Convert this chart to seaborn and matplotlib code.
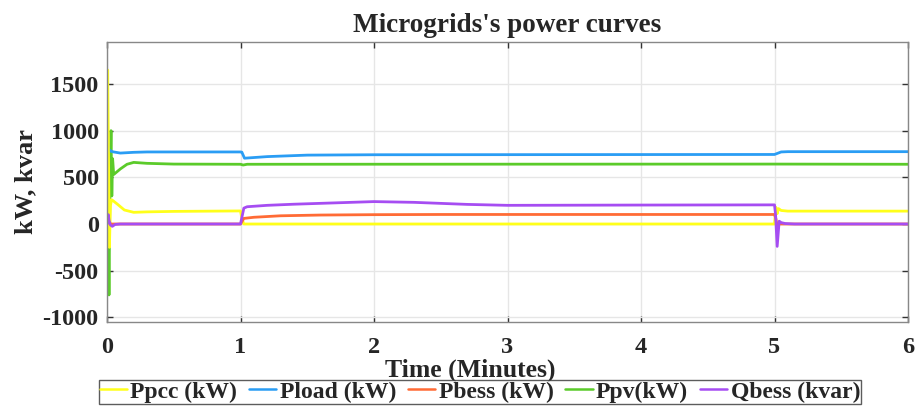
import numpy as np
import pandas as pd
import matplotlib
matplotlib.use("Agg")
import matplotlib.pyplot as plt
import seaborn as sns
from matplotlib.lines import Line2D

# ---- data (breakpoints) ----
ppcc_t = [0, 0.005, 0.01, 0.018, 0.026, 0.034, 0.045, 0.08, 0.13, 0.2, 0.3, 0.5, 1.0, 1.01, 1.025, 5.0, 5.01, 5.02, 5.03, 5.05, 5.1, 6.0]
ppcc_v = [0, 1650, 900, -250, 200, 260, 250, 210, 150, 125, 130, 135, 140, 60, 0, 0, 180, 110, 165, 145, 138, 138]

pload_t = [0, 0.006, 0.012, 0.03, 0.05, 0.1, 0.2, 0.3, 1.0, 1.01, 1.03, 1.2, 1.5, 2.0, 5.0, 5.05, 5.1, 6.0]
pload_v = [0, 860, 800, 780, 772, 760, 768, 772, 772, 770, 705, 722, 738, 742, 745, 772, 775, 775]

pbess_t = [0, 0.012, 0.02, 0.03, 1.0, 1.025, 1.1, 1.3, 1.6, 2.0, 2.5, 5.0, 5.01, 5.02, 5.04, 6.0]
pbess_v = [0, 30, 10, 0, 0, 60, 72, 88, 96, 100, 102, 102, 60, -20, 0, 0]

ppv_t = [0, 0.008, 0.015, 0.022, 0.03, 0.036, 0.042, 0.05, 0.1, 0.15, 0.2, 0.3, 0.5, 1.0, 1.02, 1.05, 5.0, 6.0]
ppv_v = [0, 300, -760, 400, 1000, 300, 700, 530, 590, 640, 660, 650, 642, 640, 632, 640, 642, 640]

qbess_t = [0, 0.01, 0.015, 0.025, 0.04, 0.06, 0.1, 1.0, 1.025, 1.05, 1.2, 1.4, 1.7, 2.0, 2.3, 2.7, 3.0, 4.0, 5.0, 5.008, 5.02, 5.035, 5.05, 5.08, 5.15, 6.0]
qbess_v = [0, 100, 40, -10, -25, -5, 0, 0, 170, 185, 200, 212, 226, 240, 232, 210, 200, 203, 205, 100, -240, 30, 15, 5, 0, 0]

series_names = ["Ppcc (kW)", "Pload (kW)", "Pbess (kW)", "Ppv(kW)", "Qbess (kvar)"]
series_colors = ["#FFFF1A", "#2A9DF4", "#FF6B35", "#5BCB2A", "#A64DF2"]

x_ticks = [0, 1, 2, 3, 4, 5, 6]
y_ticks = [-1000, -500, 0, 500, 1000, 1500]

frames = []
for name, t, v in zip(series_names,
                      [ppcc_t, pload_t, pbess_t, ppv_t, qbess_t],
                      [ppcc_v, pload_v, pbess_v, ppv_v, qbess_v]):
    frames.append(pd.DataFrame({"t": t, "v": v, "series": name}))
df = pd.concat(frames, ignore_index=True)

sns.set_style("whitegrid")
plt.rcParams["font.family"] = ["Liberation Serif", "DejaVu Serif"]
plt.rcParams["font.weight"] = "bold"

fig = plt.figure(figsize=(9.15, 4.07), dpi=100)
ax = fig.add_axes([107/915, 1-322/407, (908-107)/915, (322-42)/407])

draw_order = ["Ppv(kW)", "Pload (kW)", "Ppcc (kW)", "Pbess (kW)", "Qbess (kvar)"]
palette = dict(zip(series_names, series_colors))
for name in draw_order:
    sub = df[df["series"] == name]
    sns.lineplot(data=sub, x="t", y="v", color=palette[name], lw=2.0,
                 estimator=None, sort=False, ax=ax, legend=False)

ax.set_xlim(0, 6)
ax.set_ylim(-1050, 1950)
ax.set_xticks(x_ticks)
ax.set_yticks(y_ticks)
ax.set_xticklabels([str(x) for x in x_ticks], fontsize=17.5, fontweight="bold")
ax.set_yticklabels([str(y) for y in y_ticks], fontsize=17.5, fontweight="bold")
ax.grid(True, color="#e6e6e6", lw=1.0)
for s in ax.spines.values():
    s.set_color("#888888")
    s.set_linewidth(1.0)
ax.tick_params(direction="in", length=4, width=1, color="#333333", top=True, right=True,
               bottom=True, left=True)
ax.tick_params(axis="x", pad=11)
ax.tick_params(axis="y", pad=6)
ax.set_xlabel("Time (Minutes)", fontsize=18.5, fontweight="bold")
ax.xaxis.set_label_coords((470-107)/801, (322-359)/280)
ax.set_ylabel("kW, kvar", fontsize=19, fontweight="bold", labelpad=4)
ax.set_title("Microgrids's power curves", fontsize=19.5, fontweight="bold", pad=7)

handles = [Line2D([0], [0], color=c, lw=1.8) for c in series_colors]
leg = fig.legend(handles, series_names, loc="center", bbox_to_anchor=(480/915, 1-392/407),
                 ncol=5, frameon=True, fancybox=False, edgecolor="#333333",
                 prop={"size": 17, "weight": "bold"}, handlelength=1.15,
                 handletextpad=0.15, columnspacing=0.5, borderpad=0.05,
                 borderaxespad=0.0)
leg.get_frame().set_linewidth(1.0)

fig.savefig("out.png", dpi=100)
